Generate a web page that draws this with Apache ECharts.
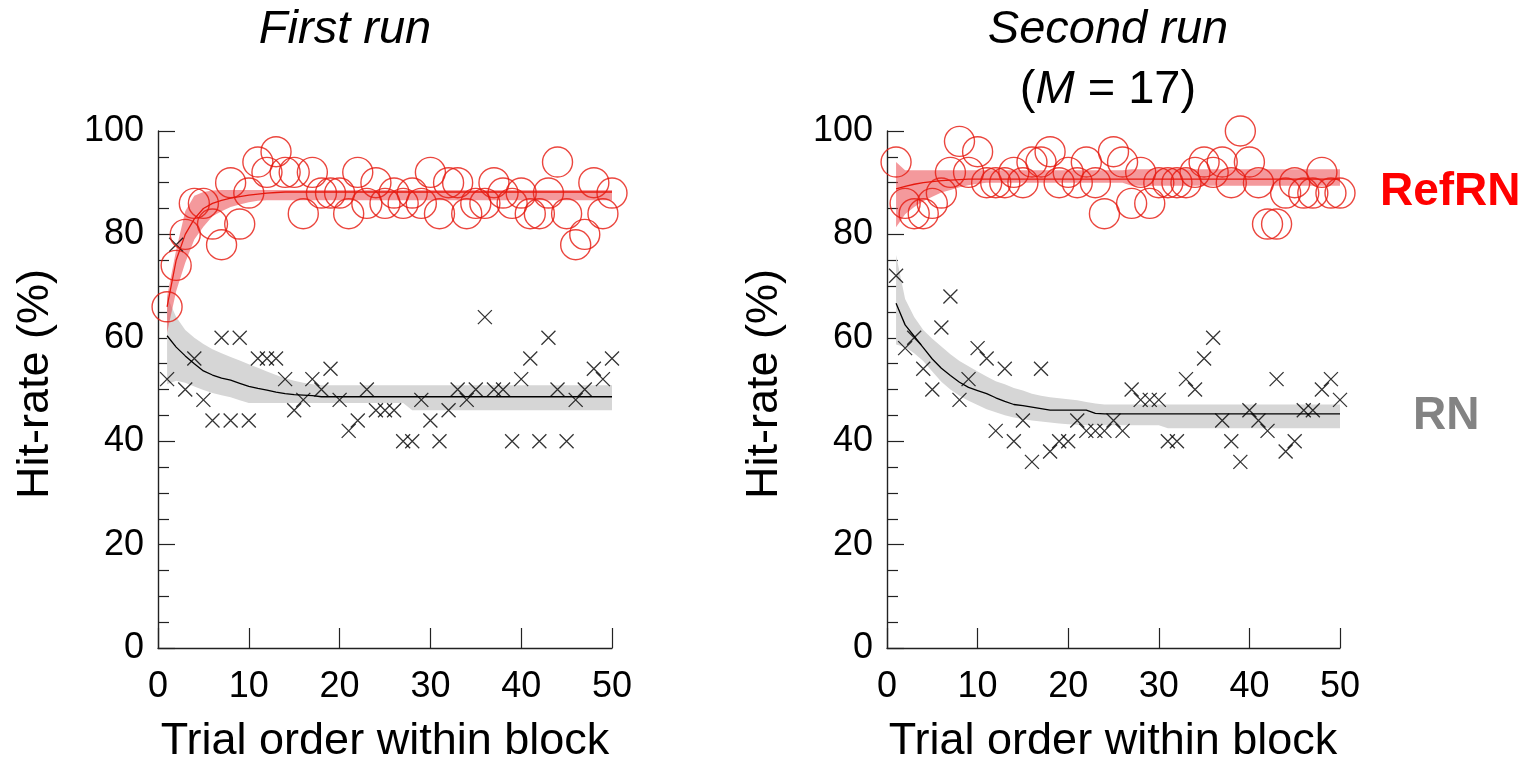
<!DOCTYPE html>
<html>
<head>
<meta charset="utf-8">
<script src="https://cdn.jsdelivr.net/npm/echarts@6/dist/echarts.min.js"></script>
<style>
  html, body { margin: 0; padding: 0; background: #fff; }
  #chart { width: 1528px; height: 761px; }
</style>
</head>
<body>
<div id="chart"></div>
<script>
// Trial positions within a block (x axis)
const trials = Array.from({ length: 50 }, (_, i) => i + 1);
const xTickValues = [0, 10, 20, 30, 40, 50];
const yTickValues = [0, 20, 40, 60, 80, 100];

// First run: observed hit-rates (%)
const firstRefRN = [66, 74, 80, 86, 86, 82, 78, 90, 82, 88,
                    94, 92, 96, 92, 92, 84, 92, 88, 88, 88,
                    84, 92, 86, 90, 86, 88, 86, 88, 86, 92,
                    84, 90, 90, 84, 86, 86, 90, 88, 86, 88,
                    84, 84, 88, 94, 84, 78, 80, 90, 84, 88];
const firstRN = [52, 78, 50, 56, 48, 44, 60, 44, 60, 44,
                 56, 56, 56, 52, 46, 48, 52, 50, 54, 48,
                 42, 44, 50, 46, 46, 46, 40, 40, 48, 44,
                 40, 46, 50, 48, 50, 64, 50, 50, 40, 52,
                 56, 40, 60, 50, 40, 48, 50, 54, 52, 56];

// First run: fitted curves and their bands
const firstRefFit = [66, 75, 80, 83, 85, 86, 86.6, 87, 87.3, 87.6,
                     87.8, 88, 88.1, 88.2, 88.2, 88.2, 88.2, 88.2, 88.2, 88.2,
                     88.2, 88.2, 88.2, 88.2, 88.2, 88.2, 88.2, 88.2, 88.2, 88.2,
                     88.2, 88.2, 88.2, 88.2, 88.2, 88.2, 88.2, 88.2, 88.2, 88.2,
                     88.2, 88.2, 88.2, 88.2, 88.2, 88.2, 88.2, 88.2, 88.2, 88.2];
const firstRefUpper = [68, 77, 84.5, 87.5, 88.2, 88.5, 88.6, 88.6, 88.6, 88.6,
                       88.6, 88.6, 88.6, 88.6, 88.6, 88.6, 88.6, 88.6, 88.6, 88.6,
                       88.6, 88.6, 88.6, 88.6, 88.6, 88.6, 88.6, 88.6, 88.6, 88.6,
                       88.6, 88.6, 88.6, 88.6, 88.6, 88.6, 88.6, 88.6, 88.6, 88.6,
                       88.6, 88.6, 88.6, 88.6, 88.6, 88.6, 88.6, 88.6, 88.6, 88.6];
const firstRefLower = [61, 69, 74.5, 79, 81.5, 83.5, 84.5, 85.3, 85.8, 86.2,
                       86.5, 86.6, 86.6, 86.6, 86.6, 86.6, 86.6, 86.6, 86.6, 86.6,
                       86.6, 86.6, 86.6, 86.6, 86.6, 86.6, 86.6, 86.6, 86.6, 86.6,
                       86.6, 86.6, 86.6, 86.6, 86.6, 86.6, 86.6, 86.6, 86.6, 86.6,
                       86.6, 86.6, 86.6, 86.6, 86.6, 86.6, 86.6, 86.6, 86.6, 86.6];
const firstRNFit = [60.4, 58.2, 56.5, 55, 53.6, 52.8, 52.2, 51.8, 51.2, 50.6,
                    50.2, 49.9, 49.5, 49.2, 49, 48.9, 48.8, 48.6, 48.6, 48.6,
                    48.6, 48.6, 48.6, 48.6, 48.6, 48.6, 48.6, 48.6, 48.6, 48.6,
                    48.6, 48.6, 48.6, 48.6, 48.6, 48.6, 48.6, 48.6, 48.6, 48.6,
                    48.6, 48.6, 48.6, 48.6, 48.6, 48.6, 48.6, 48.6, 48.6, 48.6];
const firstRNUpper = [68, 64, 61.5, 60, 58.8, 57.8, 57, 56.3, 55.6, 54.9,
                      54.2, 53.5, 52.8, 52.2, 51.7, 51.3, 51, 50.8, 50.8, 50.8,
                      50.8, 50.8, 50.8, 50.8, 50.8, 50.8, 50.8, 50.8, 50.8, 50.8,
                      50.8, 50.8, 50.8, 50.8, 50.8, 50.8, 50.8, 50.8, 50.8, 50.8,
                      50.8, 50.8, 50.8, 50.8, 50.8, 50.8, 50.8, 50.8, 50.8, 50.8];
const firstRNLower = [51, 51.7, 51.3, 50.6, 49.9, 49.3, 48.9, 48.5, 47.9, 47.4,
                      47.4, 47.4, 47.4, 47.4, 47.4, 47.4, 47.4, 47.4, 47.4, 47.4,
                      47.4, 47.4, 47.4, 47.4, 47.4, 47.4, 47.4, 46, 46, 46,
                      46, 46, 46, 46, 46, 46, 46, 46, 46, 46,
                      46, 46, 46, 46, 46, 46, 46, 46, 46, 46];

// Second run: observed hit-rates (%)
const secondRefRN = [94, 86, 84, 84, 86, 88, 92, 98, 92, 96,
                     90, 90, 90, 92, 90, 94, 94, 96, 90, 92,
                     90, 94, 90, 84, 96, 94, 86, 92, 86, 90,
                     90, 90, 90, 92, 94, 92, 94, 90, 100, 94,
                     90, 82, 82, 88, 90, 88, 88, 92, 88, 88];
const secondRN = [72, 58, 60, 54, 50, 62, 68, 48, 52, 58,
                  56, 42, 54, 40, 44, 36, 54, 38, 40, 40,
                  44, 42, 42, 42, 44, 42, 50, 48, 48, 48,
                  40, 40, 52, 50, 56, 60, 44, 40, 36, 46,
                  44, 42, 52, 38, 40, 46, 46, 50, 52, 48];

// Second run: fitted curves and their bands
const secondRefFit = [88.8, 89.3, 89.7, 90, 90.2, 90.4, 90.5, 90.6, 90.7, 90.7,
                      90.7, 90.7, 90.7, 90.7, 90.7, 90.7, 90.7, 90.7, 90.7, 90.7,
                      90.7, 90.7, 90.7, 90.7, 90.7, 90.7, 90.7, 90.7, 90.7, 90.7,
                      90.7, 90.7, 90.7, 90.7, 90.7, 90.7, 90.7, 90.7, 90.7, 90.7,
                      90.7, 90.7, 90.7, 90.7, 90.7, 90.7, 90.7, 90.7, 90.7, 90.7];
const secondRefUpper = [94, 92.4, 92.4, 92.4, 92.4, 92.4, 92.4, 92.4, 92.4, 92.4,
                        92.4, 92.4, 92.4, 92.4, 92.4, 92.4, 92.4, 92.4, 92.4, 92.4,
                        92.4, 92.4, 92.4, 92.4, 92.4, 92.4, 92.6, 92.6, 92.6, 92.6,
                        92.6, 92.6, 92.6, 92.6, 92.6, 92.6, 92.6, 92.6, 92.6, 92.6,
                        92.6, 92.6, 92.6, 92.6, 92.6, 92.6, 92.6, 92.6, 92.6, 92.6];
const secondRefLower = [81.4, 83.9, 85.3, 86.4, 87.3, 88.1, 88.6, 89.1, 89.5, 89.8,
                        90, 90, 90, 90, 90, 90, 90, 90, 90, 90,
                        90, 90, 90, 90, 90, 90, 89.4, 89.4, 89.4, 89.4,
                        89.4, 89.4, 89.4, 89.4, 89.4, 89.4, 89.4, 89.4, 89.4, 89.4,
                        89.4, 89.4, 89.4, 89.4, 89.4, 89.4, 89.4, 89.4, 89.4, 89.4];
const secondRNFit = [66.7, 62.5, 60.3, 58.1, 55.9, 54.1, 52.7, 51.4, 50.4, 49.8,
                     49.2, 48.4, 47.7, 47.1, 46.9, 46.6, 46.3, 46, 46, 46,
                     46, 46, 45.4, 45.3, 45.3, 45.3, 45.3, 45.3, 45.3, 45.3,
                     45.3, 45.3, 45.3, 45.3, 45.3, 45.3, 45.3, 45.3, 45.3, 45.3,
                     45.3, 45.3, 45.3, 45.3, 45.3, 45.3, 45.3, 45.3, 45.3, 45.3];
const secondRNUpper = [76, 67.5, 64, 61.5, 59.8, 58.3, 56.8, 55.5, 54.5, 53.5,
                       52.5, 51.6, 51, 50.3, 49.8, 49.2, 48.8, 48.5, 48.3, 48.1,
                       47.9, 47.6, 47.3, 47.1, 47.1, 47.1, 47.1, 47.1, 47.1, 47.1,
                       47.1, 47.1, 47.1, 47.1, 47.1, 47.1, 47.1, 47.1, 47.1, 47.1,
                       47.1, 47.1, 47.1, 47.1, 47.1, 47.1, 47.1, 47.1, 47.1, 47.1];
const secondRNLower = [58.7, 58.2, 57, 55.5, 53.5, 51.5, 50, 48.8, 47.8, 47,
                       46.2, 45.6, 45, 44.6, 44.3, 44, 43.8, 43.6, 43.4, 43.3,
                       43.2, 43.1, 43.1, 43.1, 43.1, 43.1, 43.1, 43.1, 43.1, 43.1,
                       42.5, 42.5, 42.5, 42.5, 42.5, 42.5, 42.5, 42.5, 42.5, 42.5,
                       42.5, 42.5, 42.5, 42.5, 42.5, 42.5, 42.5, 42.5, 42.5, 42.5];

const FONT = '"Liberation Sans", Arial, Helvetica, sans-serif';
const RED = '#e6180e';
const BAND_RED = 'rgba(235, 70, 75, 0.55)';
const BAND_GRAY = '#d6d6d6';
const AXIS_COLOR = '#222';

const pairs = (ys) => trials.map((t, i) => [t, ys[i]]);

// Shaded band between two curves, drawn through the axis scales
function band(idx, upper, lower, fill) {
  return {
    type: 'custom', xAxisIndex: idx, yAxisIndex: idx, silent: true, z: 1,
    data: [[25, 50]],
    renderItem: function (params, api) {
      const pts = [];
      for (let i = 0; i < trials.length; i++) pts.push(api.coord([trials[i], upper[i]]));
      for (let i = trials.length - 1; i >= 0; i--) pts.push(api.coord([trials[i], lower[i]]));
      return { type: 'polygon', shape: { points: pts }, style: { fill: fill } };
    }
  };
}

function fitLine(idx, ys, color) {
  return {
    type: 'line', xAxisIndex: idx, yAxisIndex: idx, data: pairs(ys),
    showSymbol: false, symbol: 'none', silent: true, z: 2,
    lineStyle: { color: color, width: 1.3 }
  };
}

function circles(idx, ys) {
  return {
    type: 'scatter', xAxisIndex: idx, yAxisIndex: idx, data: pairs(ys),
    symbol: 'circle', symbolSize: 30, z: 4,
    itemStyle: { color: 'rgba(0,0,0,0)', borderColor: RED, borderWidth: 1.4 }
  };
}

function crosses(idx, ys) {
  return {
    type: 'scatter', xAxisIndex: idx, yAxisIndex: idx, data: pairs(ys),
    symbol: 'path://M0,0L10,10M10,0L0,10', symbolSize: 14, z: 3,
    itemStyle: { color: 'rgba(0,0,0,0)', borderColor: '#000', borderWidth: 1.3 }
  };
}

function xAxisFor(idx) {
  return {
    type: 'value', gridIndex: idx,
    min: xTickValues[0], max: xTickValues[xTickValues.length - 1],
    interval: xTickValues[1] - xTickValues[0],
    axisLine: { show: true, lineStyle: { color: AXIS_COLOR, width: 1.4 } },
    axisTick: { show: true, inside: true, length: 20, lineStyle: { color: AXIS_COLOR, width: 1.2 } },
    axisLabel: { fontSize: 36, color: '#000', fontFamily: FONT, margin: 21 },
    splitLine: { show: false }
  };
}

function yAxisFor(idx) {
  return {
    type: 'value', gridIndex: idx,
    min: yTickValues[0], max: yTickValues[yTickValues.length - 1],
    interval: yTickValues[1] - yTickValues[0],
    axisLine: { show: true, lineStyle: { color: AXIS_COLOR, width: 1.4 } },
    axisTick: { show: true, inside: true, length: 17, lineStyle: { color: AXIS_COLOR, width: 1.2 } },
    minorTick: { show: true, splitNumber: 4, length: 11, lineStyle: { color: AXIS_COLOR, width: 1.2 } },
    axisLabel: { fontSize: 36, color: '#000', fontFamily: FONT, margin: 14 },
    splitLine: { show: false },
    minorSplitLine: { show: false }
  };
}

function label(text, x, y, size, extra) {
  return Object.assign({
    type: 'text', x: x, y: y, silent: true,
    style: Object.assign({
      text: text, fontSize: size, fontFamily: FONT, fill: '#000',
      align: 'center', verticalAlign: 'middle'
    }, (extra && extra.style) || {})
  }, (extra && extra.rotation !== undefined) ? { rotation: extra.rotation } : {});
}

const chart = echarts.init(document.getElementById('chart'), null, { renderer: 'canvas' });

chart.setOption({
  animation: false,
  backgroundColor: '#fff',
  grid: [
    { left: 158, top: 131, width: 454, height: 517 },
    { left: 887, top: 131, width: 453, height: 517 }
  ],
  xAxis: [xAxisFor(0), xAxisFor(1)],
  yAxis: [yAxisFor(0), yAxisFor(1)],
  series: [
    band(0, firstRNUpper, firstRNLower, BAND_GRAY),
    band(0, firstRefUpper, firstRefLower, BAND_RED),
    fitLine(0, firstRNFit, '#000'),
    fitLine(0, firstRefFit, RED),
    crosses(0, firstRN),
    circles(0, firstRefRN),

    band(1, secondRNUpper, secondRNLower, BAND_GRAY),
    band(1, secondRefUpper, secondRefLower, BAND_RED),
    fitLine(1, secondRNFit, '#000'),
    fitLine(1, secondRefFit, RED),
    crosses(1, secondRN),
    circles(1, secondRefRN)
  ],
  graphic: [
    label('First run', 345, 30, 47, { style: { fontStyle: 'italic' } }),
    label('Second run', 1108, 30, 47, { style: { fontStyle: 'italic' } }),
    label('({i|M} = 17)', 1108, 90, 47, {
      style: { rich: { i: { fontStyle: 'italic', fontSize: 47, fontFamily: FONT, fill: '#000' } } }
    }),
    label('Hit-rate (%)', 36, 384, 45, { rotation: Math.PI / 2 }),
    label('Hit-rate (%)', 765, 384, 45, { rotation: Math.PI / 2 }),
    label('Trial order within block', 385, 742, 45),
    label('Trial order within block', 1113, 742, 45),
    label('RefRN', 1380, 192, 46, { style: { fontWeight: 'bold', fill: '#ff0000', align: 'left' } }),
    label('RN', 1413, 416, 46, { style: { fontWeight: 'bold', fill: '#838383', align: 'left' } })
  ]
});
</script>
</body>
</html>
